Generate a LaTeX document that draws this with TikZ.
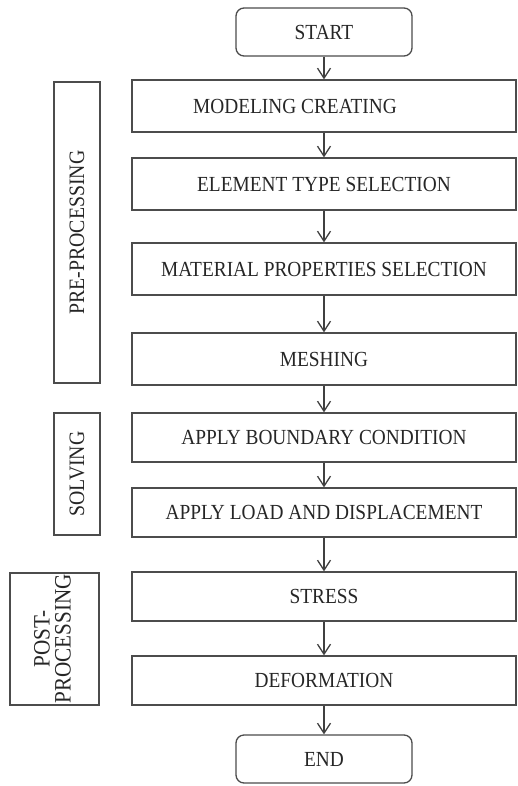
\documentclass[tikz,border=0pt]{standalone}
\usepackage{fontspec}
\setmainfont{Liberation Serif}
\newfontfamily\boxfont[FakeStretch=0.9]{Liberation Serif}
\usetikzlibrary{arrows.meta}

\begin{document}
\begin{tikzpicture}[x=1pt,y=-1pt]
            \tikzstyle{every node}+=[inner sep=0pt,text=black!85]
            \tikzstyle{box}=[draw=black!70,line width=1.3pt,minimum width=384pt,font=\boxfont\fontsize{21.5}{24}\selectfont]
            \tikzstyle{termbox}=[box,rounded corners=8pt,minimum width=176pt,minimum height=48pt]
            \tikzstyle{sidebox}=[draw=black!70,line width=1.3pt,rotate=90,align=center,font=\boxfont\fontsize{22}{21}\selectfont]
            \tikzstyle{arr}=[draw=black!75,line width=1.3pt,-{Straight Barb[length=10pt,width=13pt]}]
            \useasboundingbox (0,0) rectangle (517,786);
            \node [termbox] (start) at (324,32) {START};
            \node [box,minimum height=52pt] (model) at (324,106) {MODELING CREATING\hspace*{58pt}};
            \node [box,minimum height=52pt] (elem) at (324,184) {ELEMENT TYPE SELECTION};
            \node [box,minimum height=52pt] (mat) at (324,269) {MATERIAL PROPERTIES SELECTION};
            \node [box,minimum height=52pt] (mesh) at (324,359) {MESHING};
            \node [box,minimum height=49pt] (bound) at (324,437.5) {APPLY BOUNDARY CONDITION};
            \node [box,minimum height=49pt] (load) at (324,512.5) {APPLY LOAD AND DISPLACEMENT};
            \node [box,minimum height=49pt] (stress) at (324,596.5) {STRESS};
            \node [box,minimum height=49pt] (deform) at (324,680.5) {DEFORMATION};
            \node [termbox] (end) at (324,759) {END};
            \draw [arr] (start) -- (model);
            \draw [arr] (model) -- (elem);
            \draw [arr] (elem) -- (mat);
            \draw [arr] (mat) -- (mesh);
            \draw [arr] (mesh) -- (bound);
            \draw [arr] (bound) -- (load);
            \draw [arr] (load) -- (stress);
            \draw [arr] (stress) -- (deform);
            \draw [arr] (deform) -- (end);
            \node [sidebox,minimum width=301pt,minimum height=46pt] (pre) at (77,232.5) {PRE-PROCESSING};
            \node [sidebox,minimum width=122pt,minimum height=46pt] (solve) at (77,474) {SOLVING};
            \node [draw=black!70,line width=1.3pt,minimum width=89pt,minimum height=132pt] (postbox) at (54.5,639) {};
            \node [sidebox,draw=none,font=\boxfont\fontsize{23.5}{21}\selectfont] (post) at (52.5,639) {POST-\\PROCESSING};
        \end{tikzpicture}
\end{document}
